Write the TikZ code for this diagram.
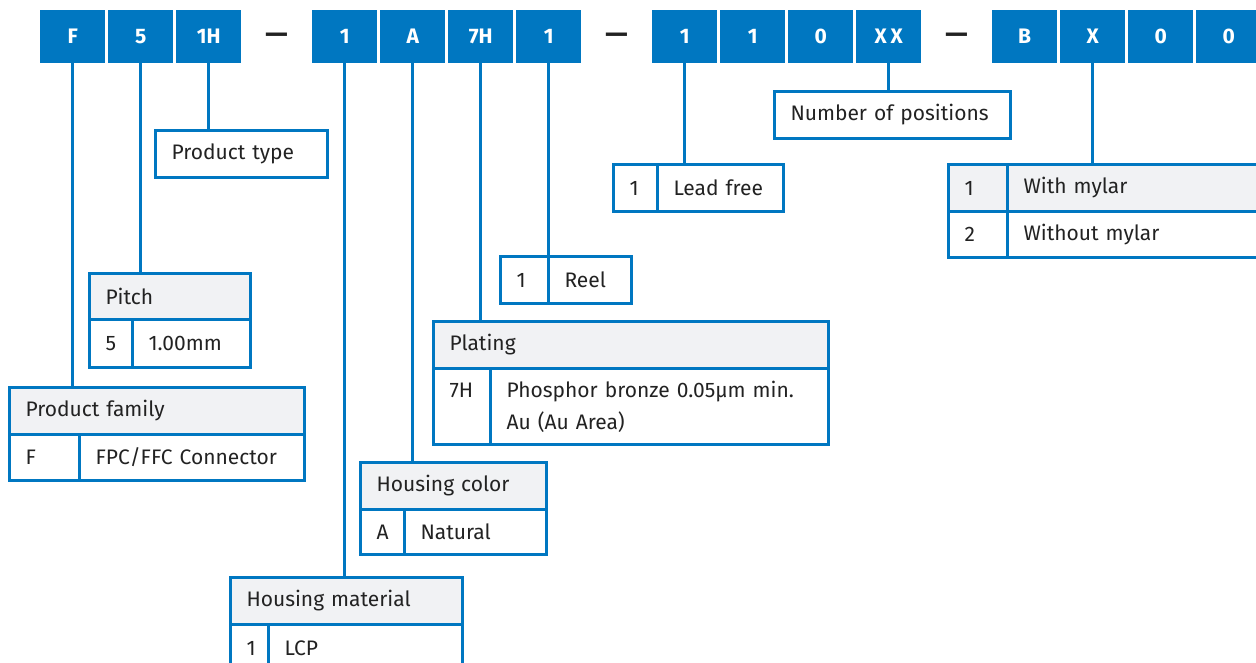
\documentclass[tikz,border=0pt]{standalone}
\usepackage{fontspec}
\setmainfont{Fira Sans}
\definecolor{cblue}{HTML}{0077C1}
\definecolor{cgrey}{HTML}{F1F2F4}
\definecolor{ctext}{HTML}{222222}
\begin{document}
\begin{tikzpicture}[x=1pt, y=-1pt]
	\tikzset{code/.style={fill=cblue, text=white, font=\fontsize{21}{25}\selectfont\bfseries, minimum width=65pt, minimum height=53pt, inner sep=0pt, anchor=north west}};
	\tikzset{sepmark/.style={text=ctext, font=\fontsize{28}{30}\selectfont\bfseries, inner sep=0pt}};
	\tikzset{cell/.style 2 args={draw=cblue, line width=3pt, anchor=north west, inner xsep=16pt, inner ysep=0pt, text width=#1, minimum height=#2, align=left, text=ctext, font=\fontsize{21}{32}\selectfont, execute at begin node={\hyphenpenalty=10000\relax}}};
	\tikzset{hcell/.style 2 args={cell={#1}{#2}, fill=cgrey}};
	\tikzset{link/.style={draw=cblue, line width=3pt}};

	\useasboundingbox (0,0) rectangle (1256,662);
	\clip (0,0) rectangle (1256,662);

	\foreach \i/\t in {0/F,1/5,2/1H,4/1,5/A,6/7H,7/1,9/1,10/1,11/0,12/X\kern4pt X,14/B,15/X,16/0,17/0}
		\node[code] (c\i) at ({40+68*\i},10) {\t};
	\foreach \i in {3,8,13}
		\node[sepmark] (d\i) at ({72.5+68*\i},38) {—};

	\node[cell={140pt}{47pt}] (ptype) at (154,129) {Product type};

	\node[hcell={129pt}{46pt}] (pitchh) at (88,272) {Pitch};
	\node[cell={11pt}{48pt}] (pitchk) at (88,318) {5};
	\node[cell={86pt}{48pt}] (pitchv) at (131,318) {1.00mm};

	\node[hcell={263pt}{47pt}] (famh) at (8,386) {Product family};
	\node[cell={38pt}{46pt}] (famk) at (8,433) {F};
	\node[cell={193pt}{46pt}] (famv) at (78,433) {FPC/FFC Connector};

	\node[hcell={200pt}{47pt}] (math) at (229,576) {Housing material};
	\node[cell={6pt}{47pt}] (matk) at (229,623) {1};
	\node[cell={162pt}{47pt}] (matv) at (267,623) {LCP};

	\node[hcell={154pt}{47pt}] (colh) at (359,461) {Housing color};
	\node[cell={12pt}{45pt}] (colk) at (359,508) {A};
	\node[cell={110pt}{45pt}] (colv) at (403,508) {Natural};

	\node[hcell={363pt}{47pt}] (plah) at (432,320) {Plating};
	\node[cell={25pt}{76pt}] (plak) at (432,367) {7H\\\mbox{}};
	\node[cell={306pt}{76pt}] (plav) at (489,367) {Phosphor bronze 0.05µm min.\\Au (Au Area)};

	\node[cell={16pt}{47pt}] (reelk) at (499,255) {1};
	\node[cell={51pt}{47pt}] (reelv) at (547,255) {Reel};

	\node[cell={12pt}{47pt}] (leadk) at (612,163) {1};
	\node[cell={94pt}{47pt}] (leadv) at (656,163) {Lead free};

	\node[cell={204pt}{47pt}] (npos) at (773,90) {Number of positions};

	\node[hcell={27pt}{47pt}] (myl1k) at (947,163) {1};
	\node[hcell={228pt}{47pt}] (myl1v) at (1006,163) {With mylar};
	\node[cell={27pt}{46pt}] (myl2k) at (947,210) {2};
	\node[cell={228pt}{46pt}] (myl2v) at (1006,210) {Without mylar};

	\draw[link] (c0.south) -- (c0.south |- famh.north);
	\draw[link] (c1.south) -- (c1.south |- pitchh.north);
	\draw[link] (c2.south) -- (c2.south |- ptype.north);
	\draw[link] (c4.south) -- (c4.south |- math.north);
	\draw[link] (c5.south) -- (c5.south |- colh.north);
	\draw[link] (c6.south) -- (c6.south |- plah.north);
	\draw[link] (c7.south) -- (c7.south |- reelv.north);
	\draw[link] (c9.south) -- (c9.south |- leadv.north);
	\draw[link] (c12.south) -- (c12.south |- npos.north);
	\draw[link] (c15.south) -- (c15.south |- myl1v.north);

\end{tikzpicture}
\end{document}
